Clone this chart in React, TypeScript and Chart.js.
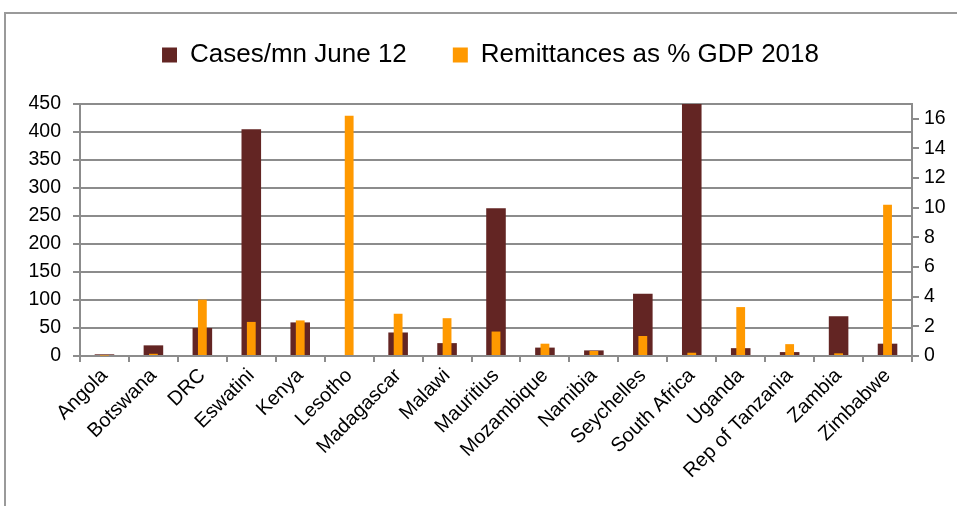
import React, { useEffect, useRef } from "react";
import { Chart, registerables } from "chart.js";

Chart.register(...registerables);

const categories = [
  "Angola", "Botswana", "DRC", "Eswatini", "Kenya", "Lesotho", "Madagascar", "Malawi",
  "Mauritius", "Mozambique", "Namibia", "Seychelles", "South Africa", "Uganda",
  "Rep of Tanzania", "Zambia", "Zimbabwe",
];
const casesPerMn = [3, 19, 50, 405, 60, 0, 42, 23, 264, 15, 10, 111, 520, 14, 7, 71, 22];
const remittancesPctGdp = [0.03, 0.15, 3.8, 2.3, 2.4, 16.2, 2.85, 2.55, 1.65, 0.83, 0.34, 1.35, 0.22, 3.3, 0.8, 0.18, 10.2];
const leftTicks = [0, 50, 100, 150, 200, 250, 300, 350, 400, 450];
const rightTicks = [0, 2, 4, 6, 8, 10, 12, 14, 16];
const rightAxisMax = 17;

const MAROON = "#632523";
const ORANGE = "#FF9900";
const GRID = "#8c8c8c";
const FONT = "'Liberation Sans', Arial, sans-serif";

const legendTweak = {
  id: "legendTweak",
  afterInit(chart: any) {
    const lg = chart.legend;
    if (!lg || lg.__tweaked) return;
    lg.__tweaked = true;
    const origFit = lg.fit.bind(lg);
    lg.fit = function () {
      origFit();
      this.height = 104;
    };
    const origDraw = lg.draw.bind(lg);
    lg.draw = function () {
      const ctx = chart.ctx;
      ctx.save();
      ctx.translate(12, -4);
      origDraw();
      ctx.restore();
    };
  },
};

export default function App() {
  const ref = useRef<HTMLCanvasElement>(null);
  useEffect(() => {
    document.body.style.margin = "0";
    const chart = new Chart(ref.current!, {
      type: "bar",
      plugins: [legendTweak],
      data: {
        labels: categories,
        datasets: [
          {
            label: "Cases/mn June 12",
            data: casesPerMn,
            backgroundColor: MAROON,
            yAxisID: "y",
            grouped: false,
            order: 1,
            barPercentage: 0.4,
            categoryPercentage: 1,
          },
          {
            label: "Remittances as % GDP 2018",
            data: remittancesPctGdp,
            backgroundColor: ORANGE,
            yAxisID: "y1",
            grouped: false,
            order: 0,
            barPercentage: 0.18,
            categoryPercentage: 1,
          },
        ],
      },
      options: {
        animation: false,
        responsive: false,
        maintainAspectRatio: false,
        layout: { padding: { top: 0, left: 0, right: 0, bottom: 0 } },
        plugins: {
          tooltip: { enabled: false },
          legend: {
            position: "top",
            align: "center",
            labels: {
              font: { family: FONT, size: 26 },
              color: "#000",
              boxWidth: 15,
              boxHeight: 15,
              padding: 46,
              sort: (a: any, b: any) => a.datasetIndex - b.datasetIndex,
            },
          },
        },
        scales: {
          x: {
            offset: true,
            grid: {
              offset: true,
              drawOnChartArea: false,
              drawTicks: true,
              tickLength: 6,
              color: GRID,
              lineWidth: 2,
            },
            border: { color: GRID, width: 2 },
            ticks: {
              minRotation: 45,
              maxRotation: 45,
              autoSkip: false,
              font: { family: FONT, size: 20 },
              color: "#000",
              padding: 2,
            },
            afterFit: (s: any) => { s.height = 150; },
          },
          y: {
            position: "left",
            min: 0,
            max: leftTicks[leftTicks.length - 1],
            ticks: {
              font: { family: FONT, size: 19.5 },
              color: "#000",
              padding: 12,
            },
            afterBuildTicks: (s: any) => { s.ticks = leftTicks.map((v) => ({ value: v })); },
            grid: { color: GRID, lineWidth: 2, tickLength: 7 },
            border: { color: GRID, width: 2 },
            afterFit: (s: any) => { s.width = 80; },
          },
          y1: {
            position: "right",
            min: 0,
            max: rightAxisMax,
            ticks: {
              font: { family: FONT, size: 19.5 },
              color: "#000",
              padding: 5,
            },
            afterBuildTicks: (s: any) => { s.ticks = rightTicks.map((v) => ({ value: v })); },
            grid: { drawOnChartArea: false, color: GRID, lineWidth: 2, tickLength: 7 },
            border: { color: GRID, width: 2 },
            afterFit: (s: any) => { s.width = 45; },
          },
        },
      },
    });
    return () => chart.destroy();
  }, []);
  return (
    <div style={{ position: "relative", width: 957, height: 506, overflow: "hidden", background: "#fff" }}>
      <div style={{ position: "absolute", left: 4, top: 12, width: 1000, height: 600, borderTop: "2px solid #9a9a9a", borderLeft: "2px solid #9a9a9a" }} />
      <canvas ref={ref} width={957} height={506} style={{ position: "absolute", left: 0, top: 0 }} />
    </div>
  );
}
